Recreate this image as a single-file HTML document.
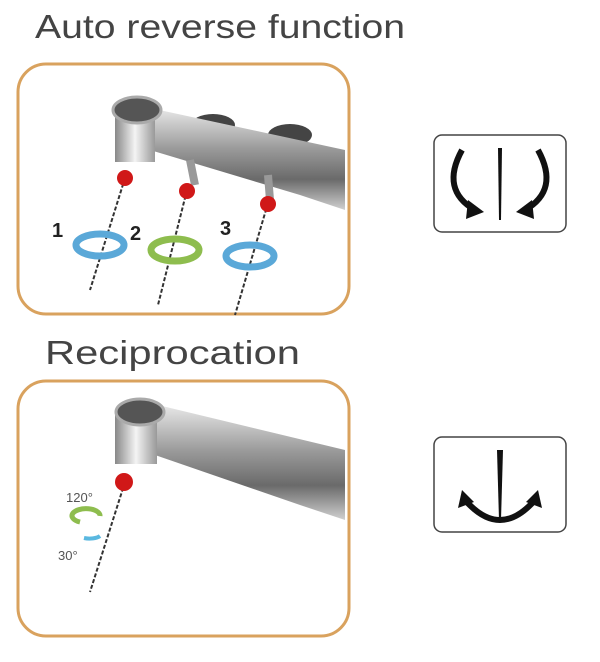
<!DOCTYPE html>
<html><head><style>
body{margin:0;background:#fff;width:600px;height:662px;overflow:hidden}
svg{display:block}
</style></head><body>
<svg width="600" height="662" viewBox="0 0 600 662" xmlns="http://www.w3.org/2000/svg" font-family="Liberation Sans, sans-serif">
<defs>
<linearGradient id="m" x1="0" y1="0" x2="0" y2="1">
<stop offset="0" stop-color="#e8e8e8"/><stop offset="0.4" stop-color="#9a9a9a"/><stop offset="0.7" stop-color="#6a6a6a"/><stop offset="1" stop-color="#d0d0d0"/>
</linearGradient>
<linearGradient id="h" x1="0" y1="0" x2="1" y2="0">
<stop offset="0" stop-color="#888"/><stop offset="0.5" stop-color="#f4f4f4"/><stop offset="1" stop-color="#999"/>
</linearGradient>
</defs>
<text x="35" y="38" font-size="33" fill="#444" textLength="370" lengthAdjust="spacingAndGlyphs">Auto reverse function</text>
<text x="45" y="364" font-size="33" fill="#444" textLength="255" lengthAdjust="spacingAndGlyphs">Reciprocation</text>
<rect x="18" y="64" width="331" height="250" rx="28" fill="#fff" stroke="#d9a25e" stroke-width="3"/>
<rect x="18" y="381" width="331" height="255" rx="28" fill="#fff" stroke="#d9a25e" stroke-width="3"/>

<g>
<ellipse cx="213" cy="125" rx="22" ry="11" fill="#444"/>
<ellipse cx="290" cy="135" rx="22" ry="11" fill="#444"/>
<polygon points="150,108 345,150 345,210 300,195 150,150" fill="url(#m)"/>
<rect x="115" y="110" width="40" height="52" fill="url(#h)"/>
<ellipse cx="137" cy="110" rx="24" ry="13" fill="#555" stroke="#aaa" stroke-width="3"/>
<path d="M190 160 l5 25 M268 175 l2 25" stroke="#999" stroke-width="8"/>
<g stroke="#333" stroke-width="2" stroke-dasharray="4,2">
<line x1="125" y1="178" x2="90" y2="290"/><line x1="187" y1="190" x2="158" y2="305"/><line x1="268" y1="203" x2="235" y2="315"/>
</g>
<circle cx="125" cy="178" r="8" fill="#d01818"/><circle cx="187" cy="191" r="8" fill="#d01818"/><circle cx="268" cy="204" r="8" fill="#d01818"/>
<ellipse cx="100" cy="245" rx="24" ry="11" fill="none" stroke="#5aa8d8" stroke-width="7"/>
<ellipse cx="175" cy="250" rx="24" ry="11" fill="none" stroke="#8ebd4e" stroke-width="7"/>
<ellipse cx="250" cy="256" rx="24" ry="11" fill="none" stroke="#5aa8d8" stroke-width="7"/>
<text x="52" y="237" font-size="20" font-weight="bold" fill="#222">1</text>
<text x="130" y="240" font-size="20" font-weight="bold" fill="#222">2</text>
<text x="220" y="235" font-size="20" font-weight="bold" fill="#222">3</text>
</g>

<g>
<polygon points="158,405 345,450 345,520 300,505 155,455" fill="url(#m)"/>
<rect x="115" y="412" width="42" height="52" fill="url(#h)"/>
<ellipse cx="140" cy="412" rx="24" ry="13" fill="#555" stroke="#aaa" stroke-width="3"/>
<line x1="125" y1="482" x2="90" y2="592" stroke="#333" stroke-width="2" stroke-dasharray="4,2"/>
<circle cx="124" cy="482" r="9" fill="#d01818"/>
<text x="66" y="502" font-size="13" fill="#555">120°</text>
<text x="58" y="560" font-size="13" fill="#555">30°</text>
<path d="M80 522 a14 7 0 1 1 20 -6" fill="none" stroke="#8ebd4e" stroke-width="5"/>
<path d="M84 538 a12 5 0 0 0 16 -2" fill="none" stroke="#5ab8e0" stroke-width="4"/>
</g>

<rect x="434" y="135" width="132" height="97" rx="8" fill="#fff" stroke="#444" stroke-width="1.5"/>
<polygon points="498,148 502,148 501,220 499,220" fill="#111"/>
<path d="M462 150 Q440 190 475 210" fill="none" stroke="#111" stroke-width="6"/>
<polygon points="468,200 484,212 466,219" fill="#111"/>
<path d="M538 150 Q560 190 525 210" fill="none" stroke="#111" stroke-width="6"/>
<polygon points="532,200 516,212 534,219" fill="#111"/>

<rect x="434" y="437" width="132" height="95" rx="8" fill="#fff" stroke="#444" stroke-width="1.5"/>
<polygon points="497,450 503,450 501,520 499,520" fill="#111"/>
<path d="M465 500 Q500 540 535 500" fill="none" stroke="#111" stroke-width="6"/>
<polygon points="458,508 462,490 474,502" fill="#111"/>
<polygon points="542,508 538,490 526,502" fill="#111"/>
</svg>
</body></html>
